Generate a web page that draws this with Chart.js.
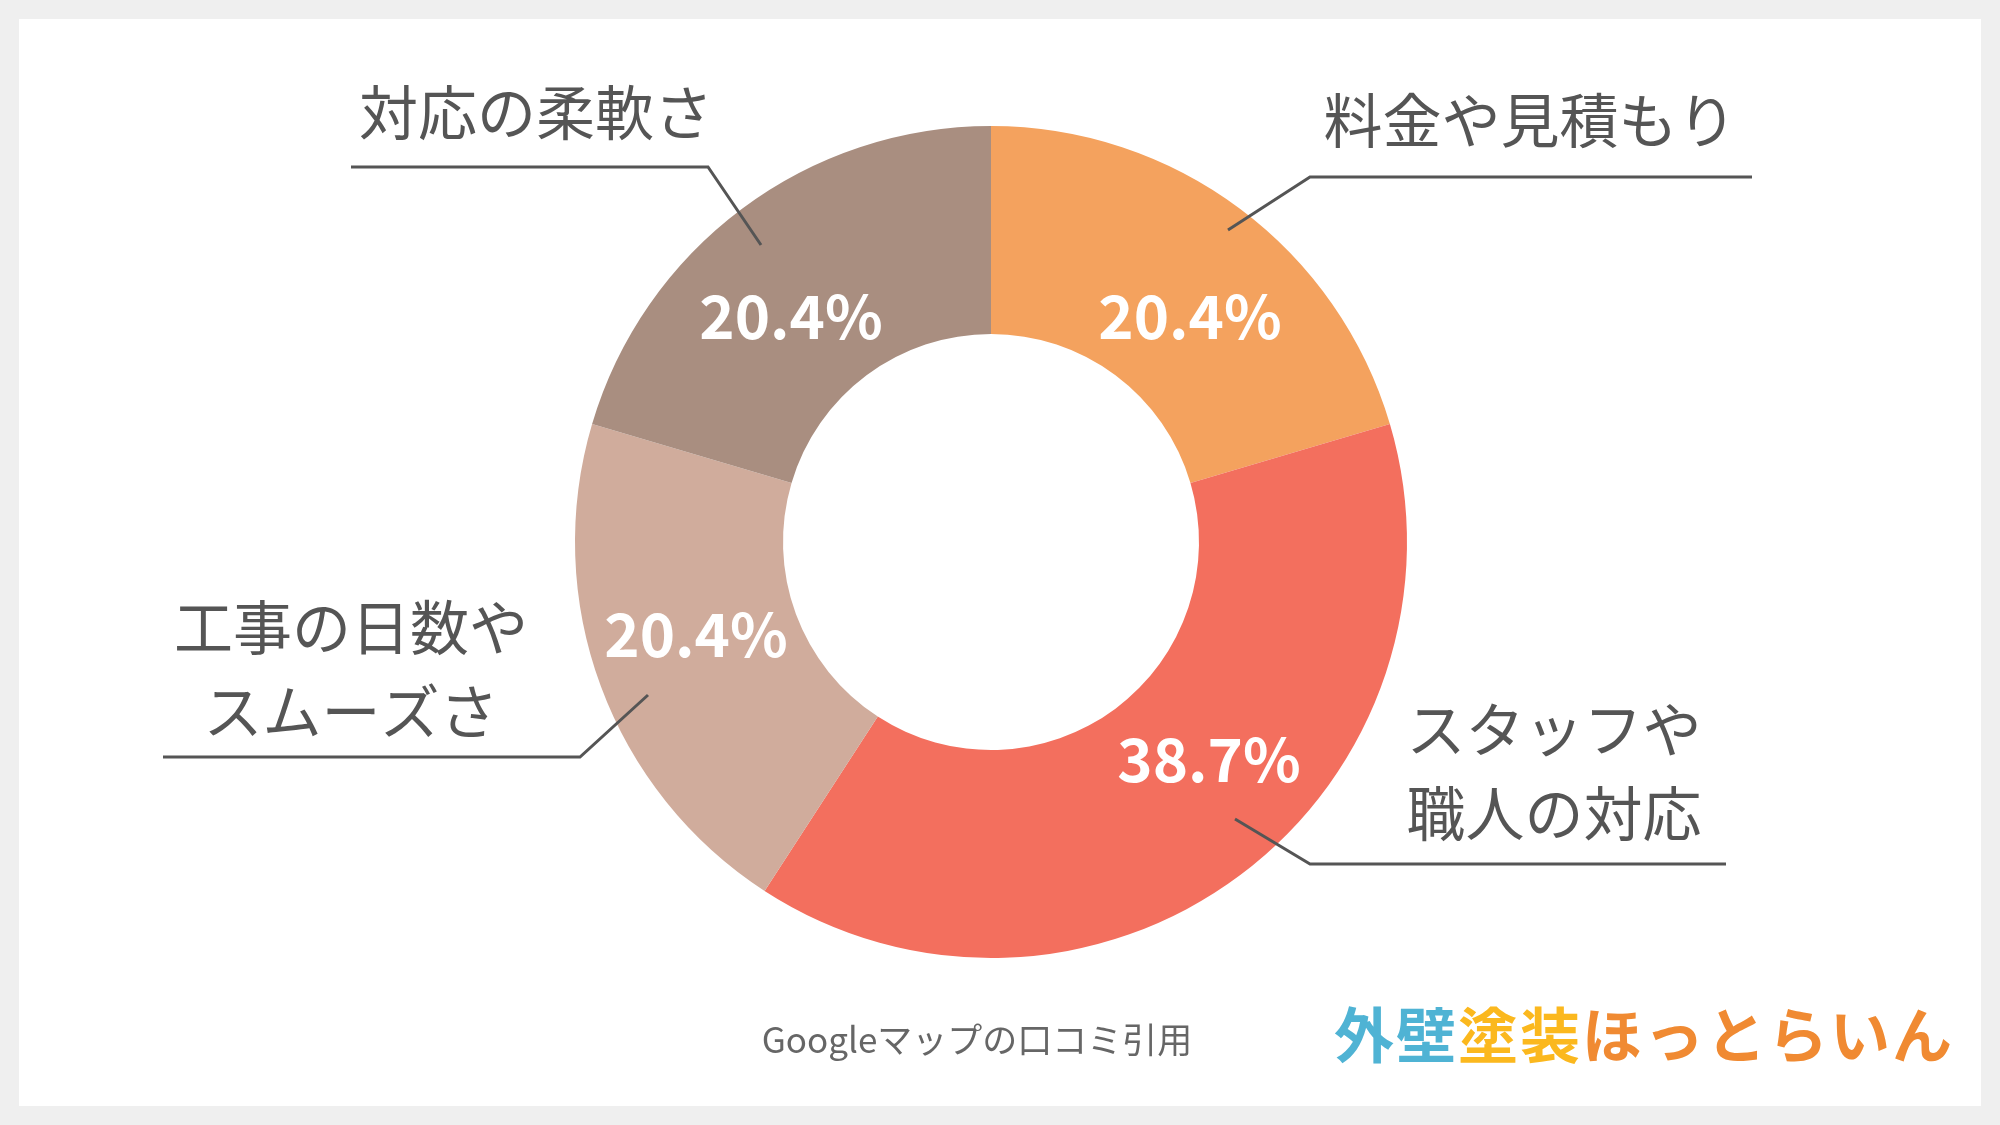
<!DOCTYPE html>
<html>
<head>
<meta charset="utf-8">
<script src="https://cdn.jsdelivr.net/npm/chart.js@4.4.0/dist/chart.umd.min.js"></script>
<style>
  html, body { margin: 0; padding: 0; background: #efefef; }
  #wrap { width: 2000px; height: 1125px; }
</style>
</head>
<body>
<div id="wrap"><canvas id="myChart" width="2000" height="1125"></canvas></div>
<script>
const categories = ['料金や見積もり', 'スタッフや職人の対応', '工事の日数やスムーズさ', '対応の柔軟さ'];
const values = [20.4, 38.7, 20.4, 20.4];
const colors = ['#f4a25e', '#f36f5e', '#d0ac9c', '#a98e80'];

// where the percentage sits inside each slice
const pctPos = [[1190, 316], [1209, 759], [696, 634], [791, 316]];

// callout labels: text lines, text center, underline and leader line
const callouts = [
    { lines: ['料金や見積もり'], tx: 1530, ty: 121, ux1: 1310, ux2: 1752, uy: 177, px: 1228, py: 230 },
    { lines: ['スタッフや', '職人の対応'], tx: 1554, ty: 730, ux1: 1310, ux2: 1726, uy: 864, px: 1235, py: 819 },
    { lines: ['工事の日数や', 'スムーズさ'], tx: 351, ty: 628, ux1: 163, ux2: 580, uy: 757, px: 648, py: 695 },
    { lines: ['対応の柔軟さ'], tx: 536, ty: 113, ux1: 351, ux2: 708, uy: 167, px: 761, py: 245 }
];
const lineGap = 84;
const fontJP = '"Noto Sans CJK JP", "Noto Sans", sans-serif';

const ctx = document.getElementById('myChart');

const decorPlugin = {
    id: 'decor',
    beforeDraw(chart) {
        const c = chart.ctx;
        c.save();
        c.fillStyle = '#efefef';
        c.fillRect(0, 0, 2000, 1125);
        c.fillStyle = '#ffffff';
        c.fillRect(19, 19, 1962, 1087);
        c.restore();
    },
    afterDraw(chart) {
        const c = chart.ctx;
        c.save();
        // percentages
        c.fillStyle = '#ffffff';
        c.font = 'bold 60px ' + fontJP;
        c.textAlign = 'center';
        c.textBaseline = 'middle';
        values.forEach((v, i) => c.fillText(v.toFixed(1) + '%', pctPos[i][0], pctPos[i][1]));
        // callouts
        c.strokeStyle = '#555555';
        c.lineWidth = 3;
        c.fillStyle = '#555555';
        c.font = '59px ' + fontJP;
        callouts.forEach(o => {
            o.lines.forEach((t, j) => c.fillText(t, o.tx, o.ty + j * lineGap));
            const left = o.px < o.ux1;
            c.beginPath();
            c.moveTo(o.px, o.py);
            c.lineTo(left ? o.ux1 : o.ux2, o.uy);
            c.lineTo(left ? o.ux2 : o.ux1, o.uy);
            c.stroke();
        });
        // source
        c.fillStyle = '#666666';
        c.font = '35px ' + fontJP;
        c.fillText('Googleマップの口コミ引用', 977, 1040);
        // logo
        c.font = 'bold 60px ' + fontJP;
        const logo = '外壁塗装ほっとらいん';
        const logoCols = ['#4fb3d4', '#4fb3d4', '#fbb81e', '#fbb81e', '#f08a32', '#f08a32', '#f08a32', '#f08a32', '#f08a32', '#f08a32'];
        [...logo].forEach((ch, i) => {
            c.fillStyle = logoCols[i];
            c.fillText(ch, 1364 + i * 62, 1035);
        });
        c.restore();
    }
};

let chart = new Chart(ctx, {
    type: 'doughnut',
    data: {
        labels: categories,
        datasets: [{
            data: values,
            backgroundColor: colors,
            borderWidth: 0
        }]
    },
    options: {
        responsive: false,
        animation: false,
        cutout: '50%',
        layout: {
            padding: { left: 575, right: 593, top: 126, bottom: 167 }
        },
        plugins: {
            legend: { display: false },
            tooltip: { enabled: false }
        }
    },
    plugins: [decorPlugin]
});
</script>
</body>
</html>
